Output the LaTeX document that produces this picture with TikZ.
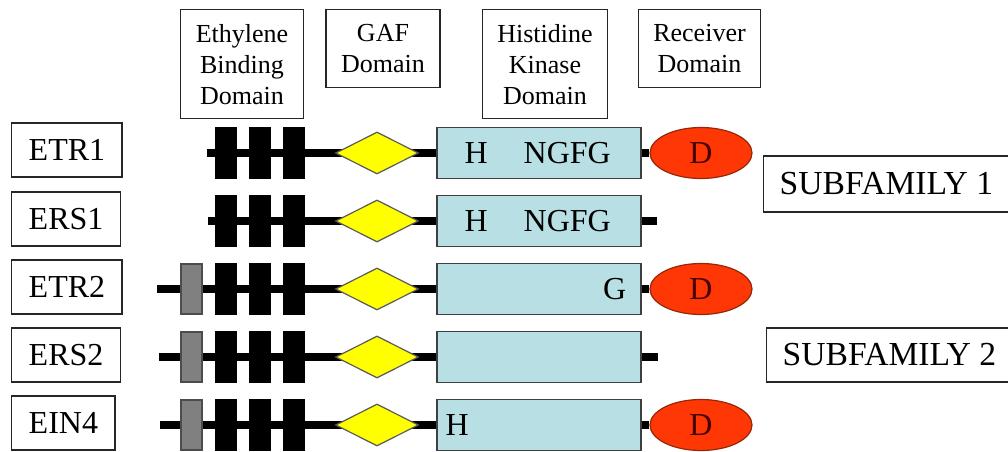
\documentclass[tikz,border=0pt]{standalone}
\usepackage{fontspec}
\setmainfont{Liberation Serif}
\usetikzlibrary{positioning, shapes.geometric, backgrounds}

\definecolor{hkblue}{RGB}{183,223,228}
\definecolor{recred}{RGB}{255,55,5}
\definecolor{recedge}{RGB}{150,40,10}
\definecolor{gafyellow}{RGB}{255,255,0}
\definecolor{tmgray}{RGB}{128,128,128}
\definecolor{dtext}{RGB}{70,0,0}

\tikzset{
  headbox/.style={draw=black!85, line width=0.7pt, align=center, anchor=north,
    inner xsep=7.5pt, font=\fontsize{13}{15.5}\selectfont},
  namebox/.style={draw=black!85, line width=0.7pt, anchor=west, inner xsep=8.5pt,
    minimum height=27pt, font=\fontsize{16}{19}\selectfont},
  tmblock/.style={fill=black, inner sep=0pt, minimum width=11pt, minimum height=26pt},
  graytm/.style={fill=tmgray, draw=black!70, line width=0.6pt, inner sep=0pt,
    minimum width=10.5pt, minimum height=25pt},
  gafdom/.style={diamond, fill=gafyellow, draw=black!65, line width=0.6pt,
    inner sep=0pt, minimum width=41.5pt, minimum height=21pt},
  hkdom/.style={fill=hkblue, draw=black!75, line width=0.7pt, inner sep=0pt,
    minimum width=102pt, minimum height=25.5pt},
  recdom/.style={ellipse, fill=recred, draw=recedge, line width=0.6pt, inner sep=0pt,
    minimum width=51pt, minimum height=25.5pt, text=dtext,
    font=\fontsize{16}{19}\selectfont},
  motif/.style={font=\fontsize{16}{19}\selectfont},
  subbox/.style={namebox, inner xsep=8pt, font=\fontsize{16.8}{20}\selectfont},
  backbone/.style={line width=4pt}
}

\begin{document}
\begin{tikzpicture}[x=0.5pt, y=-0.5pt]
\useasboundingbox (0,0) rectangle (1008,451);

% domain headings
\node[headbox, minimum height=54.5pt] (ethhead) at (242,9) {Ethylene\\Binding\\Domain};
\node[headbox, minimum height=39pt]   (gafhead) at (383,9) {GAF\\Domain};
\node[headbox, minimum height=54.5pt] (hkhead)  at (545,9) {Histidine\\Kinase\\Domain};
\node[headbox, minimum height=39pt]   (rechead) at (699.5,9) {Receiver\\Domain};

% receptor names
\node[namebox] (etr1name) at (11,150) {ETR1};
\node[namebox] (ers1name) at (11,219) {ERS1};
\node[namebox] (etr2name) at (11,287) {ETR2};
\node[namebox] (ers2name) at (11,355) {ERS2};
\node[namebox] (ein4name) at (11,423) {EIN4};

% shared domains of every row
\foreach \row/\y in {etr1/153, ers1/221, etr2/289, ers2/357, ein4/425} {
  \node[tmblock] (\row-tm1) at (226,\y) {};
  \node[tmblock] (\row-tm2) at (260,\y) {};
  \node[tmblock] (\row-tm3) at (294,\y) {};
  \node[gafdom]  (\row-gaf) at (377,\y) {};
  \node[hkdom]   (\row-hk)  at (539,\y) {};
}

% extra grey segment of subfamily 2
\node[graytm] (etr2-tm0) at (191.5,289) {};
\node[graytm] (ers2-tm0) at (191.5,357) {};
\node[graytm] (ein4-tm0) at (191.5,425) {};

% receiver domains
\node[recdom] (etr1-rec) at (701,153) {D};
\node[recdom] (etr2-rec) at (701,289) {D};
\node[recdom] (ein4-rec) at (701,425) {D};

% motifs in the kinase domain
\node[motif] at ([xshift=20pt]etr1-hk.west) {H};
\node[motif] at ([xshift=65.5pt]etr1-hk.west) {NGFG};
\node[motif] at ([xshift=20pt]ers1-hk.west) {H};
\node[motif] at ([xshift=65.5pt]ers1-hk.west) {NGFG};
\node[motif] at ([xshift=-13.5pt]etr2-hk.east) {G};
\node[motif] at ([xshift=10.5pt]ein4-hk.west) {H};

% subfamilies
\node[subbox, minimum height=28pt] (sub1) at (763,184) {SUBFAMILY 1};
\node[subbox] (sub2) at (766,355) {SUBFAMILY 2};

% backbones
\coordinate (etr1-start) at (207,153);
\coordinate (ers1-start) at (208,221);
\coordinate (etr2-start) at (157,289);
\coordinate (ers2-start) at (159,357);
\coordinate (ein4-start) at (160,425);
\coordinate (ers1-end) at (657,221);
\coordinate (ers2-end) at (658,357);
\begin{scope}[on background layer]
  \foreach \row in {etr1, ers1, etr2, ers2, ein4}
    \draw[backbone] (\row-start) -- (\row-hk.west);
  \draw[backbone] (etr1-hk.east) -- (etr1-rec.west);
  \draw[backbone] (etr2-hk.east) -- (etr2-rec.west);
  \draw[backbone] (ein4-hk.east) -- (ein4-rec.west);
  \draw[backbone] (ers1-hk.east) -- (ers1-end);
  \draw[backbone] (ers2-hk.east) -- (ers2-end);
\end{scope}
\end{tikzpicture}
\end{document}
